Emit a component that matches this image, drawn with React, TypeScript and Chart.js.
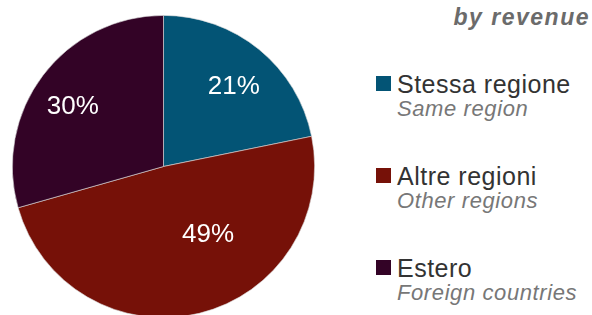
import React, { useEffect, useRef } from "react";
import { Chart, registerables } from "chart.js";

Chart.register(...registerables);

const title = "by revenue";
const categories = ["Stessa regione", "Altre regioni", "Estero"];
const subLabels = ["Same region", "Other regions", "Foreign countries"];
const values = [21.8, 48.8, 29.4];
const valueLabels = ["21%", "49%", "30%"];
const colors = ["#035475", "#761108", "#330326"];
// label placement relative to each arc: [angle offset in degrees, fraction of radius]
const labelPlacement: [number, number][] = [
  [1.8, 0.709],
  [-19.7, 0.535],
  [-3.1, 0.724],
];

const labelPlugin = {
  id: "sliceLabels",
  afterDatasetsDraw(chart: any) {
    const meta = chart.getDatasetMeta(0);
    const ctx = chart.ctx;
    ctx.save();
    ctx.fillStyle = "#ffffff";
    ctx.font = '26px "Liberation Sans", Arial, sans-serif';
    ctx.textAlign = "center";
    ctx.textBaseline = "middle";
    meta.data.forEach((arc: any, i: number) => {
      const p = arc.getProps(["x", "y", "startAngle", "endAngle", "outerRadius"], true);
      const mid = (p.startAngle + p.endAngle) / 2 + (labelPlacement[i][0] * Math.PI) / 180;
      const r = p.outerRadius * labelPlacement[i][1];
      const x = p.x + Math.cos(mid) * r;
      const y = p.y + Math.sin(mid) * r;
      ctx.fillText(valueLabels[i], x, y + 1);
    });
    ctx.restore();
  },
};

export default function App() {
  const ref = useRef<HTMLCanvasElement>(null);
  useEffect(() => {
    if (!ref.current) return;
    const chart = new Chart(ref.current, {
      type: "pie",
      data: {
        labels: categories,
        datasets: [
          {
            data: values,
            backgroundColor: colors,
            borderColor: "rgba(220,220,220,0.8)",
            borderWidth: 0.75,
          },
        ],
      },
      options: {
        responsive: false,
        animation: false,
        maintainAspectRatio: false,
        layout: { padding: 0 },
        plugins: {
          legend: { display: false },
          tooltip: { enabled: false },
          title: { display: false },
        },
      },
      plugins: [labelPlugin],
    });
    return () => chart.destroy();
  }, []);

  const itemTops = [71, 163, 255];

  return (
    <div
      style={{
        position: "absolute",
        left: 0,
        top: 0,
        width: 592,
        height: 315,
        overflow: "hidden",
        background: "#ffffff",
        fontFamily: '"Liberation Sans", Arial, sans-serif',
      }}
    >
      <canvas
        ref={ref}
        width={303}
        height={303}
        style={{ position: "absolute", left: 12, top: 15, width: 303, height: 303 }}
      />
      <div
        style={{
          position: "absolute",
          right: 2,
          top: 3,
          fontSize: 23,
          fontWeight: "bold",
          fontStyle: "italic",
          color: "#6b6b6b",
          letterSpacing: 1.5,
          lineHeight: "28px",
          whiteSpace: "nowrap",
        }}
      >
        {title}
      </div>
      {categories.map((c, i) => (
        <div key={c} style={{ position: "absolute", left: 376, top: itemTops[i] }}>
          <div
            style={{
              position: "absolute",
              left: 0,
              top: 5,
              width: 15,
              height: 15,
              background: colors[i],
            }}
          />
          <div
            style={{
              position: "absolute",
              left: 21,
              top: 0,
              fontSize: 25,
              color: "#333333",
              letterSpacing: 0.5,
              lineHeight: "26px",
              whiteSpace: "nowrap",
            }}
          >
            {c}
          </div>
          <div
            style={{
              position: "absolute",
              left: 21,
              top: 26,
              fontSize: 22,
              fontStyle: "italic",
              color: "#777777",
              letterSpacing: 0.6,
              lineHeight: "24px",
              whiteSpace: "nowrap",
            }}
          >
            {subLabels[i]}
          </div>
        </div>
      ))}
    </div>
  );
}
